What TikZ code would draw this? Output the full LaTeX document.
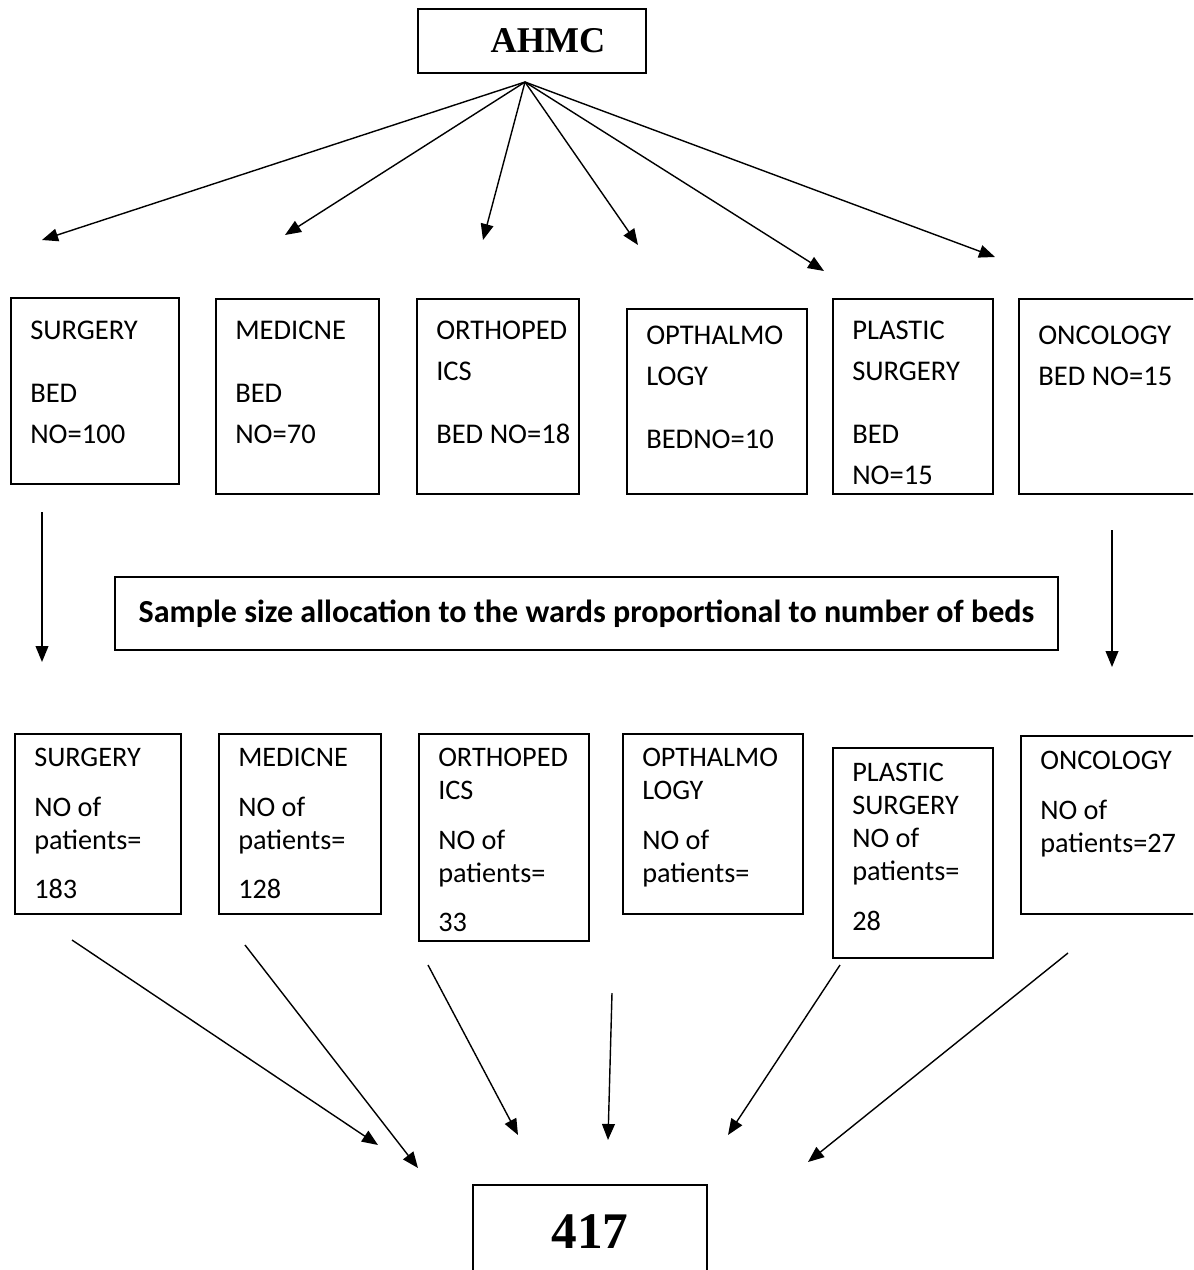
\documentclass[tikz,border=0pt]{standalone}
\usepackage{fontspec}
\setmainfont{Carlito}
\newfontfamily\headfont{Liberation Serif}
\usetikzlibrary{arrows.meta}
\tikzset{
  ward/.style={draw=black,line width=1.1pt,inner sep=0pt,anchor=north west},
  bedtxt/.style={font=\fontsize{20.3}{29.2}\selectfont,align=left,inner sep=0pt,anchor=north west},
  pattxt/.style={font=\fontsize{20.1}{23.5}\selectfont,align=left,inner sep=0pt,anchor=north west},
  head/.style={draw=black,line width=1.1pt,inner sep=0pt},
  arr/.style={-{Triangle[length=4mm,width=3.2mm]},line width=1pt,draw=black}
}

\begin{document}
\begin{tikzpicture}[x=0.025cm,y=-0.025cm]
  \useasboundingbox (0,0) rectangle (1193,1270);
  \clip (0,0) rectangle (1193,1270);
  % top box
  \node[head,font=\headfont\bfseries\fontsize{25.8}{30}\selectfont,
    minimum width=5.7cm,minimum height=1.6cm] (ahmc) at (532,41) {\hspace{0.8cm}AHMC};
  \coordinate (hub) at (525,82);

  % wards with beds
  \foreach \n/\x/\y/\w/\h/\ty/\txt in {
    b1/10/297/168/186/321/{SURGERY\\[15.6pt]BED\\NO=100},
    b2/215/298/163/195/321/{MEDICNE\\[15.6pt]BED\\NO=70},
    b3/416/298/162/195/321/{ORTHOPED\\ICS\\[15.6pt]BED NO=18},
    b4/626/308/180/185/326/{OPTHALMO\\LOGY\\[15.6pt]BEDNO=10},
    b5/832/298/160/195/321/{PLASTIC\\SURGERY\\[15.6pt]BED\\NO=15},
    b6/1018/298/220/195/326/{ONCOLOGY\\BED NO=15}}
  {
    \node[ward,minimum width=\w*0.025cm,minimum height=\h*0.025cm] (\n) at (\x,\y) {};
    \node[bedtxt] (\n-txt) at (\x+20,\ty) {\txt};
  }

  % fan of arrows
  \foreach \t/\x/\y in {1/42/240,2/285/235,3/483/240,4/638/245,5/824/271,6/995/257}
  {
    \coordinate (top\t) at (\x,\y);
    \draw[arr] (hub) -- (top\t);
  }

  \node[ward,anchor=center,font=\bfseries\fontsize{22.8}{26}\selectfont,
    minimum width=23.575cm,minimum height=1.825cm] (alloc) at (586.5,613.5)
    {Sample size allocation to the wards proportional to number of beds};

  \coordinate (ls) at (42,512);
  \coordinate (le) at (42,662);
  \coordinate (rs) at (1112,530);
  \coordinate (re) at (1112,667);
  \draw[arr] (ls) -- (le);
  \draw[arr] (rs) -- (re);

  % wards with patients
  \foreach \n/\x/\y/\w/\h/\ty/\txt in {
    c1/14/733/166/180/748/{SURGERY\\[11.7pt]NO of\\patients=\\[11.7pt]183},
    c2/218/733/162/180/748/{MEDICNE\\[11.7pt]NO of\\patients=\\[11.7pt]128},
    c3/418/733/170/207/748/{ORTHOPED\\ICS\\[11.7pt]NO of\\patients=\\[11.7pt]33},
    c4/622/733/180/180/748/{OPTHALMO\\LOGY\\[11.7pt]NO of\\patients=},
    c5/832/747/160/210/763/{PLASTIC\\SURGERY\\NO of\\patients=\\[11.7pt]28},
    c6/1020/735/220/178/751/{ONCOLOGY\\[11.7pt]NO of\\patients=27}}
  {
    \node[ward,minimum width=\w*0.025cm,minimum height=\h*0.025cm] (\n) at (\x,\y) {};
    \node[pattxt] (\n-txt) at (\x+20,\ty) {\txt};
  }

  % arrows to total
  \foreach \t/\sx/\sy/\ex/\ey in {1/72/940/378/1145,2/245/945/418/1168,3/428/965/518/1135,
    4/612/993/608/1140,5/840/965/728/1135,6/1068/953/808/1162}
  {
    \coordinate (s\t) at (\sx,\sy);
    \coordinate (e\t) at (\ex,\ey);
    \draw[arr] (s\t) -- (e\t);
  }

  \node[head,font=\headfont\bfseries\fontsize{36.5}{40}\selectfont,
    minimum width=5.85cm,minimum height=2.35cm] (total) at (590,1232) {417};
\end{tikzpicture}
\end{document}
